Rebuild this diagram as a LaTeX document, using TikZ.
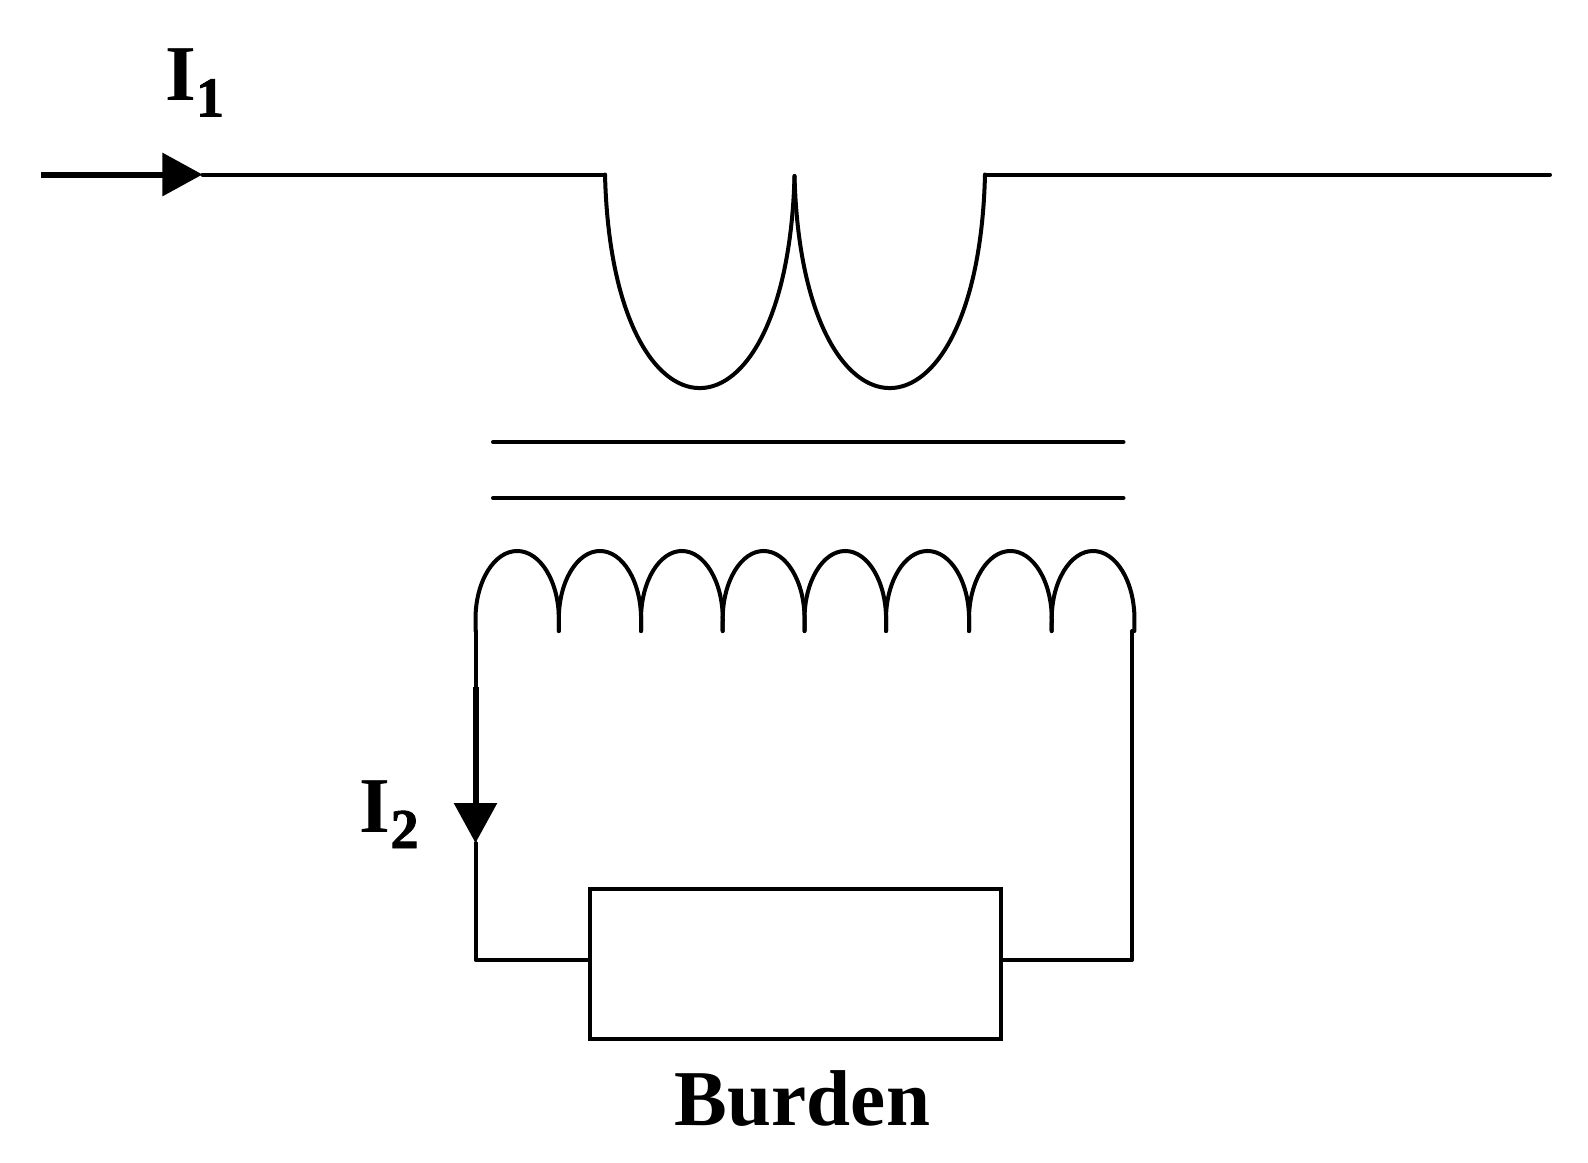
\documentclass[tikz,border=0pt]{standalone}
\usepackage{fontspec}
\usepackage{tikz}
\usetikzlibrary{arrows.meta}
\setmainfont{Liberation Serif}
\newcommand{\lbl}[2]{\fontsize{#1}{#1}\selectfont\bfseries #2}
\newcommand{\cur}[1]{\lbl{22.5pt}{I}\raisebox{-0.16cm}{\lbl{16pt}{\addfontfeature{FakeBold=1.5}#1}}}

\begin{document}
\begin{tikzpicture}[x=0.01cm, y=-0.01cm, wire/.style = {line width=0.04cm, line cap=round, line join=round}, flow/.style = {line width=0.06cm, -{Triangle[length=0.4cm, width=0.42cm]}}, burdenbox/.style = {shape=rectangle, draw, line width=0.04cm, minimum width=4.10cm, minimum height=1.50cm, inner sep=0pt}, lbl/.style = {anchor=base west, inner sep=0pt}]
	\useasboundingbox (0,0) rectangle (1588,1162);
	% primary
	\coordinate (in) at (40.6,174.5);
	\coordinate (intip) at (202.5,174.5);
	\coordinate (p1) at (605,174.5);
	\coordinate (pm) at (794.5,176);
	\coordinate (p2) at (985,174.5);
	\coordinate (out) at (1550,174.5);
	\draw[flow] (in) -- (intip);
	\draw[wire] (intip) -- (p1);
	\draw[wire] (p1) .. controls (612,459) and (787,459) .. (pm);
	\draw[wire] (pm) .. controls (802,459) and (978,459) .. (p2);
	\draw[wire] (p2) -- (out);
	% core
	\coordinate (c1) at (493,442);
	\coordinate (c2) at (1123.5,442);
	\coordinate (c3) at (493,498);
	\coordinate (c4) at (1123.5,498);
	\draw[wire] (c1) -- (c2);
	\draw[wire] (c3) -- (c4);
	% secondary
	\foreach \name/\xa in {s0/475.5, s1/558.8, s2/641, s3/722.7, s4/804.5, s5/886, s6/969, s7/1051.7, s8/1134.4}
		\coordinate (\name) at (\xa,631);
	\foreach \a/\b/\rx in {s0/s1/0.4165, s1/s2/0.411, s2/s3/0.4085, s3/s4/0.409, s4/s5/0.4075, s5/s6/0.415, s6/s7/0.4135, s7/s8/0.4135}
		\draw[wire] (\a) -- ++(0,-12) arc[start angle=180, end angle=0, x radius=\rx cm, y radius=0.68cm] -- (\b);
	% burden
	\node[burdenbox] (burden) at (795.5,964) {};
	\node[lbl, anchor=base] (burdenlbl) at (802.5,1125) {\lbl{22.5pt}{Burden}};
	\coordinate (bl) at (475.5,960);
	\coordinate (br) at (1132,960);
	\coordinate (tr) at (1132,631);
	\coordinate (i2a) at (475.5,687);
	\coordinate (i2b) at (475.5,843);
	\draw[wire] (s0) -- (i2a);
	\draw[flow] (i2a) -- (i2b);
	\draw[wire] (i2b) -- (bl) -- (burden.west |- bl);
	\draw[wire] (tr) -- (br) -- (burden.east |- br);
	% labels
	\node[lbl] (i1) at (164.5,100.5) {\cur{1}};
	\node[lbl] (i2) at (359,832) {\cur{2}};
\end{tikzpicture}
\end{document}
